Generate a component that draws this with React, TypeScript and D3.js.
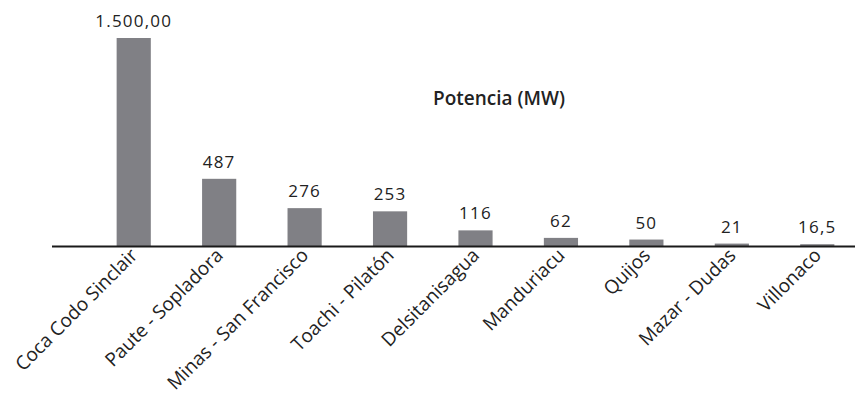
import React from "react";
import * as d3 from "d3";

const categories = [
  "Coca Codo Sinclair",
  "Paute - Sopladora",
  "Minas - San Francisco",
  "Toachi - Pilatón",
  "Delsitanisagua",
  "Manduriacu",
  "Quijos",
  "Mazar - Dudas",
  "Villonaco",
];
const values = [1500, 487, 276, 253, 116, 62, 50, 21, 16.5];
const valueLabels = ["1.500,00", "487", "276", "253", "116", "62", "50", "21", "16,5"];
const title = "Potencia (MW)";

export default function App() {
  const W = 855, H = 402;
  const baseY = 246.5;
  const x = d3.scaleBand<string>().domain(categories).range([91, 860]).paddingInner(0.6).paddingOuter(0.3);
  const y = d3.scaleLinear().domain([0, 1500]).range([baseY, 38]);
  const font = "Open Sans, sans-serif";
  return (
    <svg width={W} height={H} style={{ position: "absolute", left: 0, top: 0 }}>
      <rect width={W} height={H} fill="#fff" />
      {categories.map((c, i) => (
        <rect key={c} x={x(c)} y={y(values[i])} width={x.bandwidth()} height={baseY - y(values[i])} fill="#808085" />
      ))}
      <line x1={52} x2={855} y1={baseY} y2={baseY} stroke="#1a1a1a" strokeWidth={2} />
      {categories.map((c, i) => (
        <text key={"v" + c} x={x(c)! + x.bandwidth() / 2} y={y(values[i]) - 11} textAnchor="middle" fontFamily={font} fontSize={17} letterSpacing={1.2} fill="#222">
          {valueLabels[i]}
        </text>
      ))}
      {categories.map((c) => {
        const cx = x(c)! + x.bandwidth() / 2 + 5;
        const cy = baseY + 10;
        return (
          <text key={"c" + c} transform={`translate(${cx},${cy}) rotate(-45)`} textAnchor="end" fontFamily={font} fontSize={19} fill="#222">
            {c}
          </text>
        );
      })}
      <text x={499} y={105} textAnchor="middle" fontFamily={font} fontSize={19} fontWeight={600} fill="#222">{title}</text>
    </svg>
  );
}
